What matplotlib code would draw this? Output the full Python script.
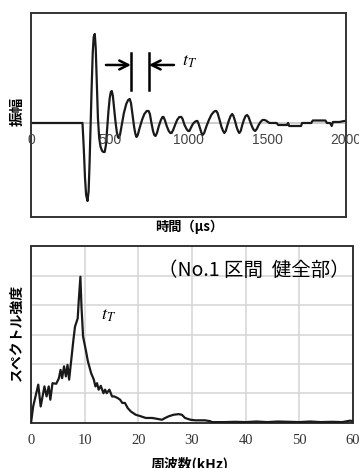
import matplotlib
matplotlib.use('Agg')
import matplotlib.pyplot as plt

plt.rcParams['mathtext.fontset'] = 'stix'

JP = ['Noto Sans CJK JP', 'DejaVu Sans']

# waveform (time in us, amplitude in arbitrary units)
wave_t = [0, 327, 335, 343, 350, 359, 366, 372, 378, 385, 392, 398, 405,
          411, 418, 425, 433, 442, 452, 460, 468, 476, 484, 492, 500, 507,
          513, 520, 528, 536, 545, 552, 557, 565, 575, 590, 605, 617, 627,
          635, 645, 655, 663, 670, 678, 690, 705, 720, 735, 747, 755, 765,
          775, 783, 791, 800, 812, 825, 835, 842, 850, 862, 875, 885, 893,
          903, 915, 928, 942, 955, 963, 975, 988, 998, 1006, 1015, 1028,
          1040, 1050, 1057, 1065, 1075, 1083, 1090, 1100, 1115, 1130, 1145,
          1160, 1170, 1177, 1185, 1198, 1210, 1220, 1228, 1237, 1248, 1258,
          1268, 1278, 1286, 1296, 1306, 1315, 1323, 1332, 1342, 1352, 1363,
          1373, 1382, 1393, 1405, 1415, 1424, 1434, 1446, 1458, 1470, 1482,
          1492, 1505, 1515, 1560, 1570, 1625, 1633, 1640, 1715, 1722, 1780,
          1790, 1870, 1880, 1900, 1910, 1918, 1960, 1990, 2000]
wave_a = [0, 0, -25, -55, -72, -78, -68, -40, -5, 35, 70, 86, 89,
          75, 40, 5, -15, -24, -28, -29, -29, -22, -5, 12, 25, 31,
          32, 27, 15, 2, -9, -14, -15, -12, -3, 10, 19, 23, 24,
          20, 8, -4, -11, -14, -12, -5, 3, 9, 12, 12, 9, 0,
          -8, -12, -13, -10, -3, 3, 6, 6, 3, -3, -8, -10, -10,
          -7, -2, 3, 6, 6, 4, -2, -6, -8, -8, -5, -1,
          1, 2, 2, -1, -6, -10, -12, -10, -3, 3, 8,
          11, 12, 12, 10, 3, -4, -8, -10, -8, -2, 3,
          7, 9, 7, 2, -4, -8, -10, -8, -2, 3, 7,
          8, 6, 1, -4, -7, -8, -6, -2, 1, 3, 3,
          2.5, 1, 0, 0, -2, -2, 0, -3, -3, 0, 0,
          2.5, 2.5, 0, 0, -3, 1, 1, 2, 2]
wave_ticks = [0, 500, 1000, 1500, 2000]

# spectrum (frequency in kHz, intensity in grid units)
spec_f = [0, 0.4, 1.35, 1.8, 2.5, 2.9, 3.3, 3.6, 4.0, 4.7, 5.2, 5.5, 5.8,
          6.15, 6.5, 6.8, 7.1, 7.5, 7.9, 8.2, 8.7, 8.9, 9.2, 9.4, 9.7,
          10.2, 10.6, 11.2, 11.7, 12.0, 12.3, 12.6, 13.0, 13.5, 13.8, 14.1,
          14.6, 15.1, 15.5, 16.1, 16.6, 17.0, 17.5, 18.0, 18.6, 19.5, 20.4,
          21.4, 22.6, 23.5, 24.4, 25.0, 25.7, 26.6, 27.5, 28.1, 28.7, 29.7,
          30.6, 32.4, 33.4, 33.7, 36, 38, 40, 42, 44, 46, 48, 50, 52, 54,
          56, 58, 59.5, 60]
spec_v = [0, 0.56, 1.30, 0.56, 1.24, 0.90, 1.24, 0.79, 1.35, 1.33, 1.52,
          1.80, 1.52, 1.92, 1.58, 1.97, 1.47, 2.14, 2.82, 3.27, 3.55, 4.17,
          4.96, 3.95, 2.93, 2.48, 2.09, 1.69, 1.47, 1.24, 1.35, 1.13, 1.26,
          1.01, 1.13, 1.01, 1.13, 0.90, 0.90, 0.85, 0.79, 0.68, 0.68, 0.51,
          0.39, 0.28, 0.23, 0.17, 0.17, 0.14, 0.11, 0.17, 0.23, 0.28, 0.30,
          0.28, 0.17, 0.11, 0.09, 0.09, 0.06, 0.03, 0.03, 0.04, 0.03, 0.05,
          0.03, 0.05, 0.04, 0.03, 0.05, 0.03, 0.04, 0.03, 0.08, 0.05]
spec_ticks = [0, 10, 20, 30, 40, 50, 60]

fig = plt.figure(figsize=(3.59, 4.68), dpi=100)

# top: waveform
#
ax1 = fig.add_axes([0.0864, 0.5363, 0.877, 0.436])
ax1.axhline(0, color='#c4c4c4', linewidth=1.2, zorder=1)
ax1.plot(wave_t, wave_a, color='#1a1a1a', linewidth=1.6, zorder=2)
ax1.set_xlim(0, 2000)
ax1.set_ylim(-94, 110)
ax1.set_xticks([])
ax1.set_yticks([])
for s in ax1.spines.values():
  s.set_color('#333333')
  s.set_linewidth(1.4)
for v in wave_ticks:
  ax1.text(v, -17, str(v), ha='center', va='center', fontsize=10,
           family='Liberation Sans', color='#444444')

# interval arrows
ax1.plot([635, 635], [33, 70], color='black', linewidth=1.8)
ax1.plot([749, 749], [33, 70], color='black', linewidth=1.8)
ax1.annotate('', xy=(635, 58), xytext=(476, 58),
             arrowprops=dict(arrowstyle='->', color='black', lw=1.8,
                             mutation_scale=16, shrinkA=0, shrinkB=0))
ax1.annotate('', xy=(749, 58), xytext=(908, 58),
             arrowprops=dict(arrowstyle='->', color='black', lw=1.8,
                             mutation_scale=16, shrinkA=0, shrinkB=0))
ax1.text(960, 62, '$t_T$', fontsize=13, ha='left', va='center')

fig.text(0.047, 0.761, '振幅', rotation=90, ha='center', va='center',
         fontsize=10.5, fontweight='bold', family=JP)
fig.text(0.527, 1 - 227 / 468, '時間（μs）', ha='center', va='center',
         fontsize=9.5, fontweight='bold', family=JP)

# bottom: spectrum
#
ax2 = fig.add_axes([0.0864, 0.0962, 0.897, 0.378])
ax2.plot(spec_f, spec_v, color='#1a1a1a', linewidth=1.6, zorder=3)
ax2.set_xlim(0, 60)
ax2.set_ylim(0, 6)
ax2.set_xticks(spec_ticks)
ax2.set_xticklabels([str(v) for v in spec_ticks], family='Liberation Serif',
                    fontsize=10.5, color='#333333')
ax2.set_yticks([1, 2, 3, 4, 5])
ax2.set_yticklabels([])
ax2.tick_params(length=0, pad=8)
ax2.grid(True, color='#d4d4d4', linewidth=1.1, zorder=0)
for s in ax2.spines.values():
  s.set_color('#333333')
  s.set_linewidth(1.4)

ax2.text(0.99, 0.86, '（No.1 区間  健全部）', transform=ax2.transAxes,
         ha='right', va='center', fontsize=14, family=JP)
ax2.text(13.0, 3.66, '$t_T$', fontsize=13, ha='left', va='center')

fig.text(0.047, 1 - 332 / 468, 'スペクトル強度', rotation=90, ha='center',
         va='center', fontsize=10, fontweight='bold', family=JP)
fig.text(0.529, 1 - 464 / 468, '周波数(kHz)', ha='center', va='center',
         fontsize=10, fontweight='bold', family=JP)

fig.savefig('out.png', dpi=100)
